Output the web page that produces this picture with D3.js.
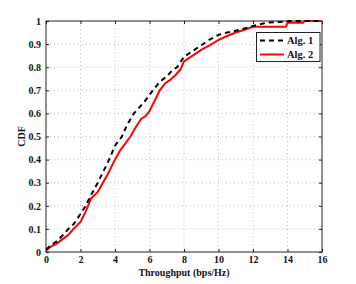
<!DOCTYPE html>
<html><head><meta charset="utf-8">
<script src="https://cdn.jsdelivr.net/npm/d3@7"></script>
<style>
html,body{margin:0;padding:0;background:#fff;}
text{font-family:"Liberation Serif","Times New Roman",serif;font-weight:bold;}
</style></head>
<body><svg id="c" width="356" height="284"></svg>
<script>
const xTicks = [0,2,4,6,8,10,12,14,16];
const yTicks = [0,0.1,0.2,0.3,0.4,0.5,0.6,0.7,0.8,0.9,1];
const seriesNames = ["Alg. 1","Alg. 2"];
const alg1X = [0,0.3,0.6,1,1.3,1.6,2,2.3,2.6,3,3.3,3.6,4,4.4,4.7,5.1,5.4,5.7,6.2,6.6,7,7.3,7.6,8,8.5,9,9.5,10,10.5,11,11.5,12,12.8,13.5,14.2,16];
const alg1Y = [0.01,0.03,0.045,0.075,0.10,0.12,0.165,0.20,0.245,0.30,0.345,0.39,0.46,0.50,0.55,0.60,0.625,0.65,0.70,0.737,0.76,0.785,0.80,0.845,0.87,0.895,0.92,0.94,0.95,0.958,0.968,0.978,0.993,0.996,1,1];
const alg2X = [0,0.3,0.6,1,1.3,1.6,2,2.3,2.6,3,3.3,3.6,4,4.3,4.6,4.9,5.2,5.5,5.8,6.0,6.3,6.6,6.9,7.2,7.5,7.8,8,8.5,9,9.5,10,10.5,11,11.5,12,13.9,14,14.9,15,16];
const alg2Y = [0.005,0.025,0.035,0.058,0.075,0.10,0.13,0.175,0.23,0.26,0.30,0.34,0.40,0.44,0.47,0.50,0.54,0.575,0.59,0.61,0.655,0.70,0.73,0.745,0.765,0.79,0.825,0.85,0.875,0.895,0.918,0.935,0.95,0.962,0.975,0.975,0.992,0.992,1,1];

const svg = d3.select("#c");
const L=46, R=322, T=21, B=252;
const FS = 10;
const x = d3.scaleLinear().domain([0,16]).range([L,R]);
const y = d3.scaleLinear().domain([0,1]).range([B,T]);

// grid
const g = svg.append("g");
g.selectAll("line.gx").data(xTicks.slice(1,-1)).enter().append("line")
 .attr("x1",d=>x(d)).attr("x2",d=>x(d)).attr("y1",T).attr("y2",B)
 .attr("stroke","#aaa").attr("stroke-width",0.8).attr("stroke-dasharray","1,3");
g.selectAll("line.gy").data(yTicks.slice(1,-1)).enter().append("line")
 .attr("y1",d=>y(d)).attr("y2",d=>y(d)).attr("x1",L).attr("x2",R)
 .attr("stroke","#aaa").attr("stroke-width",0.8).attr("stroke-dasharray","1,3");

// axes
const xa = svg.append("g").attr("transform",`translate(0,${B})`)
 .call(d3.axisBottom(x).tickValues(xTicks).tickSize(-3).tickPadding(4).tickFormat(d3.format("d")));
const xt = svg.append("g").attr("transform",`translate(0,${T})`)
 .call(d3.axisTop(x).tickValues(xTicks).tickSize(-3).tickFormat(""));
const ya = svg.append("g").attr("transform",`translate(${L},0)`)
 .call(d3.axisLeft(y).tickValues(yTicks).tickSize(-3).tickPadding(5).tickFormat(d=>d3.format("")(+d.toFixed(1))));
const yr = svg.append("g").attr("transform",`translate(${R},0)`)
 .call(d3.axisRight(y).tickValues(yTicks).tickSize(-3).tickFormat(""));
[xa,xt,ya,yr].forEach(a=>{
  a.select(".domain").remove();
  a.selectAll(".tick line").attr("stroke","#222");
  a.selectAll("text").attr("font-size",FS).attr("fill","#111")
   .style("font-family",'"Liberation Serif",serif').style("font-weight","bold");
});
svg.append("rect").attr("x",L).attr("y",T).attr("width",R-L).attr("height",B-T)
 .attr("fill","none").attr("stroke","#222").attr("stroke-width",1);

// lines
const line = d3.line().x(d=>x(d[0])).y(d=>y(d[1]));
const d1 = alg1X.map((v,i)=>[v,alg1Y[i]]);
const d2 = alg2X.map((v,i)=>[v,alg2Y[i]]);
svg.append("path").datum(d2).attr("d",line).attr("fill","none")
 .attr("stroke","#ff0000").attr("stroke-width",2);
svg.append("path").datum(d1).attr("d",line).attr("fill","none")
 .attr("stroke","#000").attr("stroke-width",2).attr("stroke-dasharray","5,4");

// legend
const lg = svg.append("g");
lg.append("rect").attr("x",256.5).attr("y",32.5).attr("width",63.5).attr("height",29)
 .attr("fill","#fff").attr("stroke","#222").attr("stroke-width",1);
const styles=[{c:"#000",da:"5,4"},{c:"#ff0000",da:null}];
seriesNames.forEach((n,i)=>{
  const yy = 40.5 + i*14;
  const l = lg.append("line").attr("x1",260).attr("x2",284).attr("y1",yy).attr("y2",yy)
   .attr("stroke",styles[i].c).attr("stroke-width",2);
  if(styles[i].da) l.attr("stroke-dasharray",styles[i].da);
  lg.append("text").attr("x",287).attr("y",yy+3.5).attr("font-size",10.5).attr("fill","#111").text(n);
});

// labels
svg.append("text").attr("x",(L+R)/2).attr("y",276).attr("text-anchor","middle")
 .attr("font-size",FS).attr("fill","#111").text("Throughput (bps/Hz)");
svg.append("text").attr("transform",`translate(25,${(T+B)/2}) rotate(-90)`).attr("text-anchor","middle")
 .attr("font-size",FS).attr("fill","#111").text("CDF");
</script></body></html>
